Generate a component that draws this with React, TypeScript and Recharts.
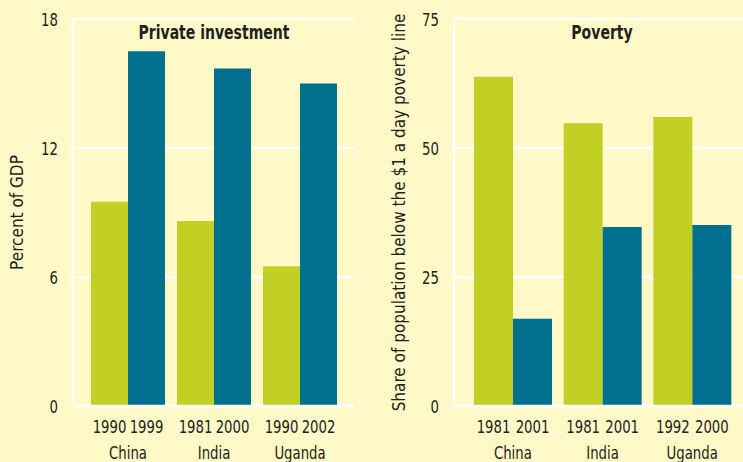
import React from 'react';
import { BarChart, Bar, XAxis, YAxis, CartesianGrid, LabelList } from 'recharts';

const countries = ['China', 'India', 'Uganda'];

const investEarlyYears = ['1990', '1981', '1990'];
const investLateYears = ['1999', '2000', '2002'];
const investEarly = [9.5, 8.6, 6.5];
const investLate = [16.5, 15.7, 15.0];
const investTicks = [0, 6, 12, 18];

const povertyEarlyYears = ['1981', '1981', '1992'];
const povertyLateYears = ['2001', '2001', '2000'];
const povertyEarly = [63.8, 54.8, 56.0];
const povertyLate = [16.9, 34.7, 35.1];
const povertyTicks = [0, 25, 50, 75];

const investData = countries.map((c, i) => ({
  country: c,
  early: investEarly[i],
  late: investLate[i],
  earlyYear: investEarlyYears[i],
  lateYear: investLateYears[i],
}));

const povertyData = countries.map((c, i) => ({
  country: c,
  early: povertyEarly[i],
  late: povertyLate[i],
  earlyYear: povertyEarlyYears[i],
  lateYear: povertyLateYears[i],
}));

const BG = '#FEF9C6';
const GREEN = '#C2D026';
const BLUE = '#00708F';
const TEXT = '#231F20';
const FONT = "'DejaVu Sans Condensed', 'Liberation Sans Narrow', sans-serif";
const SX = 0.82;

const NarrowText = (p: {
  x: number;
  y: number;
  anchor: 'start' | 'middle' | 'end';
  size: number;
  children: any;
  baseline?: string;
  weight?: string;
}) => (
  <text
    transform={`translate(${p.x},${p.y}) scale(${SX},1)`}
    textAnchor={p.anchor}
    dominantBaseline={p.baseline as any}
    fill={TEXT}
    fontSize={p.size}
    fontWeight={p.weight}
    fontFamily={FONT}
  >
    {p.children}
  </text>
);

const CountryTick = (props: any) => {
  const { x, y, payload } = props;
  return (
    <NarrowText x={x} y={y + 51} anchor="middle" size={18}>
      {payload.value}
    </NarrowText>
  );
};

const ValueTick = (props: any) => {
  const { x, y, payload } = props;
  return (
    <NarrowText x={x} y={y + 1} anchor="end" size={18} baseline="central">
      {payload.value}
    </NarrowText>
  );
};

const YearLabel = (props: any) => {
  const { x, y, width, height, value } = props;
  return (
    <NarrowText x={x + width / 2} y={y + height + 27} anchor="middle" size={18}>
      {value}
    </NarrowText>
  );
};

const makeYLabel = (text: string, dx: number) => (props: any) => {
  const { viewBox } = props;
  const cx = viewBox.x + dx;
  const cy = viewBox.y + viewBox.height / 2;
  return (
    <text
      x={cx}
      y={cy}
      transform={`rotate(-90, ${cx}, ${cy})`}
      textAnchor="middle"
      dominantBaseline="central"
      fill={TEXT}
      fontSize={17}
      fontFamily={FONT}
    >
      {text}
    </text>
  );
};

const frame = { stroke: '#FFFFFF', strokeWidth: 2.5 };

function Panel(props: {
  data: any[];
  width: number;
  yWidth: number;
  rightMargin: number;
  ticks: number[];
  title: string;
  yLabel: string;
  yLabelDx: number;
  pad: { left: number; right: number };
}) {
  const { data, width, yWidth, rightMargin, ticks, yLabel, yLabelDx, pad } = props;
  return (
    <BarChart
      width={width}
      height={462}
      data={data}
      margin={{ top: 19, right: rightMargin, bottom: 0, left: 0 }}
      barCategoryGap={6}
      barGap={0}
    >
      <CartesianGrid vertical={false} stroke="#FFFFFF" strokeWidth={2.5} />
      <XAxis
        dataKey="country"
        height={56}
        axisLine={frame}
        tickLine={false}
        tickSize={0}
        tick={<CountryTick />}
        padding={pad}
        interval={0}
      />
      <YAxis
        width={yWidth}
        domain={[ticks[0], ticks[ticks.length - 1]]}
        ticks={ticks}
        axisLine={frame}
        tickLine={false}
        tickSize={0}
        tickMargin={15}
        tick={<ValueTick />}
        label={{ content: makeYLabel(yLabel, yLabelDx) }}
      />
      <YAxis
        yAxisId="frame"
        orientation="right"
        width={0}
        domain={[ticks[0], ticks[ticks.length - 1]]}
        axisLine={frame}
        tick={false}
        tickLine={false}
      />
      <Bar dataKey="early" fill={GREEN} isAnimationActive={false}>
        <LabelList dataKey="earlyYear" content={<YearLabel />} />
      </Bar>
      <Bar dataKey="late" fill={BLUE} isAnimationActive={false}>
        <LabelList dataKey="lateYear" content={<YearLabel />} />
      </Bar>
    </BarChart>
  );
}

const titleStyle: React.CSSProperties = {
  position: 'absolute',
  top: 20,
  width: 240,
  textAlign: 'center',
  fontFamily: FONT,
  fontWeight: 'bold',
  fontSize: 19,
  color: TEXT,
  lineHeight: '24px',
  transform: `scaleX(${SX})`,
};

export default function App() {
  return (
    <div
      style={{
        position: 'absolute',
        left: 0,
        top: 0,
        width: 743,
        height: 462,
        background: BG,
        overflow: 'hidden',
      }}
    >
      <div style={{ position: 'absolute', left: 0, top: 0 }}>
        <Panel
          data={investData}
          width={370}
          yWidth={73}
          rightMargin={16}
          ticks={investTicks}
          title="Private investment"
          yLabel="Percent of GDP"
          yLabelDx={17}
          pad={{ left: 12, right: 11 }}
        />
      </div>
      <div style={{ position: 'absolute', left: 370, top: 0 }}>
        <Panel
          data={povertyData}
          width={385}
          yWidth={84}
          rightMargin={5}
          ticks={povertyTicks}
          title="Poverty"
          yLabel="Share of population below the $1 a day poverty line"
          yLabelDx={29}
          pad={{ left: 14, right: 13 }}
        />
      </div>
      <div style={{ ...titleStyle, left: 214 - 120 }}>Private investment</div>
      <div style={{ ...titleStyle, left: 602 - 120 }}>Poverty</div>
    </div>
  );
}
